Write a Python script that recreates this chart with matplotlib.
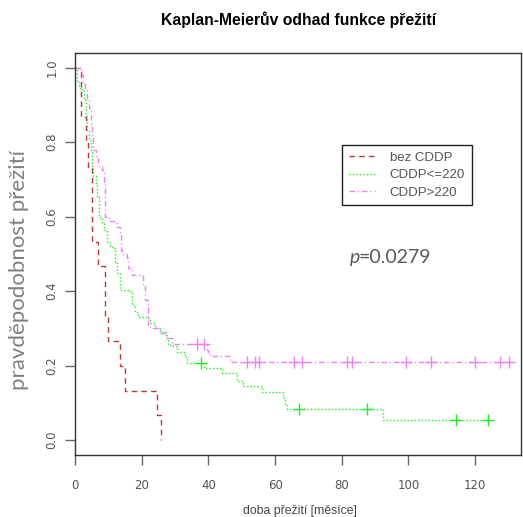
import matplotlib
matplotlib.use("Agg")
import matplotlib.pyplot as plt
import numpy as np

# Kaplan-Meier step curves (time in months, survival)
red_t = [0, 1.8, 3.3, 4.0, 5.0, 7.0, 9.0, 9.8, 13.5, 15.1, 24.7, 25.8]
red_s = [1.0, 0.867, 0.80, 0.733, 0.533, 0.467, 0.333, 0.267, 0.20, 0.133, 0.067, 0.0]

green_t = [0, 0.3, 0.7, 1.3, 2.0, 2.7, 3.3, 3.7, 4.3, 4.8, 5.0, 5.5, 6.3, 6.7, 7.3,
           8.0, 8.7, 9.5, 10.5, 11.0, 12.0, 12.7, 13.5, 16.0, 17.0, 18.0, 19.0,
           22.0, 22.5, 24.0, 25.5, 27.3, 28.0, 29.5, 30.5, 33.0, 33.5, 38.7, 44.0,
           48.7, 50.5, 56.2, 62.3, 63.0, 63.7, 92.3, 124.0]
green_s = [1.0, 0.996, 0.963, 0.945, 0.936, 0.914, 0.869, 0.833, 0.806, 0.78, 0.735,
           0.708, 0.685, 0.654, 0.60, 0.583, 0.565, 0.533, 0.52, 0.515, 0.475, 0.448,
           0.403, 0.399, 0.363, 0.345, 0.33, 0.327, 0.314, 0.30, 0.291, 0.273, 0.255,
           0.253, 0.237, 0.224, 0.208, 0.193, 0.179, 0.16, 0.145, 0.13, 0.112, 0.097,
           0.0825, 0.054, 0.054]
green_cens = [37.7, 67.3, 87.7, 114.2, 124.0]

mag_t = [0, 1.7, 2.0, 2.5, 3.0, 3.7, 4.3, 4.7, 5.0, 5.5, 6.2, 7.0, 8.0, 8.7, 9.0,
         10.3, 11.8, 12.5, 13.5, 13.7, 14.0, 15.5, 16.0, 17.0, 20.3, 21.0, 22.0,
         23.5, 25.5, 27.5, 29.0, 39.5, 40.0, 40.5, 46.5, 131.4]
mag_s = [1.0, 1.0, 0.981, 0.959, 0.94, 0.914, 0.892, 0.842, 0.815, 0.78, 0.762,
         0.735, 0.726, 0.69, 0.60, 0.587, 0.583, 0.573, 0.56, 0.51, 0.50, 0.488,
         0.462, 0.444, 0.417, 0.376, 0.305, 0.30, 0.287, 0.273, 0.258, 0.242,
         0.233, 0.227, 0.209, 0.209]
mag_cens = [36.5, 38.7, 51.7, 54.1, 55.3, 65.7, 68.2, 81.7, 83.1, 99.2, 106.7,
            119.9, 127.5, 130.3]

labels = ["bez CDDP", "CDDP<=220", "CDDP>220"]
p_text = "=0.0279"

RED, GREEN, MAG = "#b83a3a", "#22ee22", "#ee82ee"
AX = "#333333"
TICKC = "#555555"


def surv_at(ts, ss, c):
    i = np.searchsorted(ts, c, side="right") - 1
    return np.asarray(ss)[i]


fig = plt.figure(figsize=(5.23, 5.17), dpi=100)
ax = fig.add_axes([0.1434, 0.1199, 0.8537, 0.7781])

ax.step(red_t, red_s, where="post", color=RED, lw=1.0, ls=(0, (4, 3)), label=labels[0])
ax.step(green_t, green_s, where="post", color=GREEN, lw=1.0, ls=(0, (1, 1.5)), label=labels[1])
ax.step(mag_t, mag_s, where="post", color=MAG, lw=1.0, ls=(0, (4, 2, 1, 2)), label=labels[2])

gc = np.array(green_cens)
ax.plot(gc, surv_at(green_t, green_s, gc), ls="none", marker="+", ms=9, mew=1.0, color=GREEN)
mc = np.array(mag_cens)
ax.plot(mc, surv_at(mag_t, mag_s, mc), ls="none", marker="+", ms=9, mew=1.0, color=MAG)

ax.set_xlim(0, 133.9)
ax.set_ylim(-0.040, 1.040)
ax.set_xticks([0, 20, 40, 60, 80, 100, 120])
ax.set_yticks([0.0, 0.2, 0.4, 0.6, 0.8, 1.0])
ax.set_yticklabels(["0.0", "0.2", "0.4", "0.6", "0.8", "1.0"], rotation=90, va="center")
ax.tick_params(length=7, width=1, color="#666666", labelcolor=TICKC, labelsize=8.5,
               pad=5)
ax.tick_params(axis="x", pad=10)
for s in ax.spines.values():
    s.set_color(AX)
    s.set_linewidth(1.0)

fig.text(0.570, 0.962, "Kaplan-Meierův odhad funkce přežití", ha="center", va="center",
         fontsize=11.3, fontweight="bold", family="Liberation Sans")
fig.text(0.574, 0.012, "doba přežití [měsíce]", ha="center", va="center",
         fontsize=8.8, color="#444444", family="Liberation Sans")
fig.text(0.036, 0.478, "pravděpodobnost přežití", rotation=90, ha="center", va="center",
         fontsize=16, color="#808080", family="Lato")

ax.text(82.3, 0.49, "p", style="italic", fontsize=14, color="#595959",
        family="Lato", ha="left", va="center")
ax.text(85.1, 0.49, p_text, fontsize=14, color="#595959", family="Lato",
        ha="left", va="center")

leg = ax.legend(loc="upper left", bbox_to_anchor=(0.5987, 0.7706),
                handlelength=2.0, handletextpad=1.1, labelspacing=0.4, borderpad=0.5,
                borderaxespad=0, fancybox=False, framealpha=1, edgecolor="#222222",
                prop={"family": "Liberation Sans", "size": 9.5})
for t in leg.get_texts():
    t.set_color(TICKC)
leg.get_frame().set_linewidth(1.0)

fig.savefig("out.png", dpi=100)
